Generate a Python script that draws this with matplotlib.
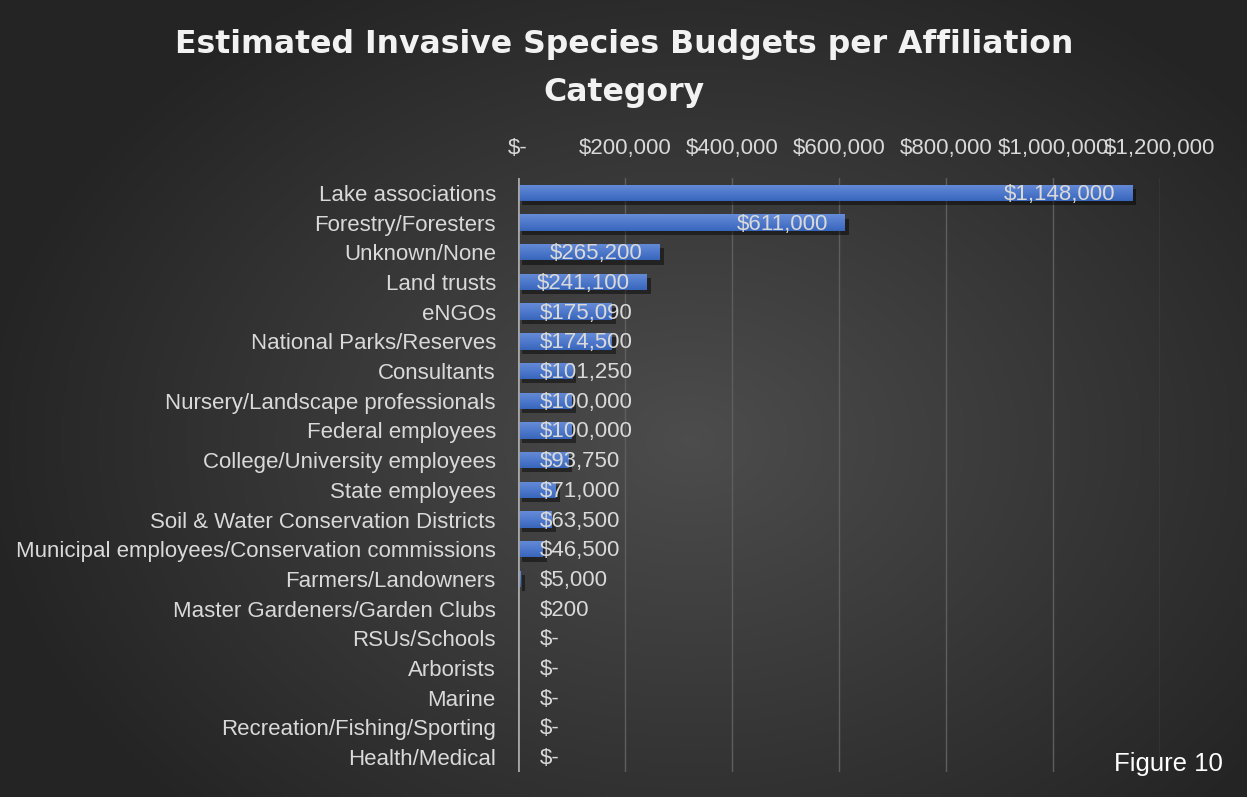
import numpy as np
import matplotlib
matplotlib.use("Agg")
import matplotlib.pyplot as plt
import matplotlib.patheffects as pe
from matplotlib.ticker import FuncFormatter

# ---- data ----
categories = [
    "Lake associations", "Forestry/Foresters", "Unknown/None", "Land trusts", "eNGOs",
    "National Parks/Reserves", "Consultants", "Nursery/Landscape professionals",
    "Federal employees", "College/University employees", "State employees",
    "Soil & Water Conservation Districts", "Municipal employees/Conservation commissions",
    "Farmers/Landowners", "Master Gardeners/Garden Clubs", "RSUs/Schools", "Arborists",
    "Marine", "Recreation/Fishing/Sporting", "Health/Medical",
]
budgets = [1148000, 611000, 265200, 241100, 175090, 174500, 101250, 100000, 100000,
           93750, 71000, 63500, 46500, 5000, 200, 0, 0, 0, 0, 0]
x_ticks = [0, 200000, 400000, 600000, 800000, 1000000, 1200000]

plt.rcParams['font.family'] = ['Liberation Sans Narrow', 'Liberation Sans', 'DejaVu Sans']
TXT = '#d9d9d9'
FS = 16

def money(v, pos=None):
    return "$-" if v == 0 else f"${v:,.0f}"

W, H = 1247, 797
fig = plt.figure(figsize=(W / 100, H / 100), dpi=100)
fig.patch.set_facecolor('white')

# ---- radial gradient background ----
bg = fig.add_axes([0, 0, 1, 1], zorder=-10)
yy, xx = np.mgrid[0:H, 0:W]
r = np.sqrt(((xx - 690) / 700.0) ** 2 + ((yy - 440) / 520.0) ** 2)
r = np.clip(r, 0, 1)
shade = 0.30 - 0.155 * r
img = np.dstack([shade, shade, shade])
bg.imshow(img, extent=[0, W, H, 0], aspect='auto')
bg.set_xlim(0, W)
bg.set_ylim(H, 0)
bg.axis('off')

# ---- main axes ----
left, right, top, bottom = 518, 1160, 178, 772
ax = fig.add_axes([left / W, (H - bottom) / H, (right - left) / W, (bottom - top) / H])
ax.set_facecolor('none')

y = np.arange(len(categories))
bars = ax.barh(y, budgets, height=0.55, color='#4472c4', zorder=3,
               path_effects=[pe.SimplePatchShadow(offset=(3, -3), shadow_rgbFace='black', alpha=0.45),
                             pe.Normal()])

# gradient overlay on each bar
grad = np.linspace(0, 1, 64).reshape(-1, 1)
top_c = np.array([0.40, 0.55, 0.85])
bot_c = np.array([0.22, 0.40, 0.74])
gimg = top_c * (1 - grad[..., None]) + bot_c * grad[..., None]
for b in bars:
    if b.get_width() <= 0:
        continue
    x0, y0 = b.get_x(), b.get_y()
    im = ax.imshow(gimg, extent=[x0, x0 + b.get_width(), y0 + b.get_height(), y0],
                   aspect='auto', zorder=4)
    im.set_clip_path(b)

ax.set_xlim(0, 1200000)
ax.set_ylim(len(categories) - 0.5, -0.5)
ax.set_xticks(x_ticks)
ax.xaxis.set_major_formatter(FuncFormatter(money))
ax.xaxis.tick_top()
ax.set_yticks(y)
ax.set_yticklabels(categories)
ax.tick_params(axis='both', length=0, colors=TXT, labelsize=FS)
ax.tick_params(axis='x', pad=13.5)
ax.tick_params(axis='y', pad=16)
for s in ax.spines.values():
    s.set_visible(False)
ax.grid(axis='x', color='#5e5e5e', linewidth=1, zorder=0)
ax.axvline(0, color='#a6a6a6', linewidth=2, zorder=5)

# ---- data labels ----
px = 1200000 / (right - left)
for yi, v in zip(y, budgets):
    if v >= 240000:
        ax.text(v - 17 * px, yi + 0.05, money(v), ha='right', va='center',
                color=TXT, fontsize=FS, zorder=6)
    else:
        ax.text(22 * px, yi + 0.05, money(v), ha='left', va='center',
                color=TXT, fontsize=FS, zorder=6)

# ---- title ----
fig.text(624 / W, 1 - 45 / H, "Estimated Invasive Species Budgets per Affiliation",
         ha='center', va='center', color='#f2f2f2', fontsize=22.7, fontweight='bold',
         family=['DejaVu Sans'])
fig.text(624 / W, 1 - 92 / H, "Category",
         ha='center', va='center', color='#f2f2f2', fontsize=22.7, fontweight='bold',
         family=['DejaVu Sans'])

fig.text(1168 / W, 1 - 764 / H, "Figure 10", ha='center', va='center',
         color='white', fontsize=18.5)

fig.savefig("out.png", dpi=100)
